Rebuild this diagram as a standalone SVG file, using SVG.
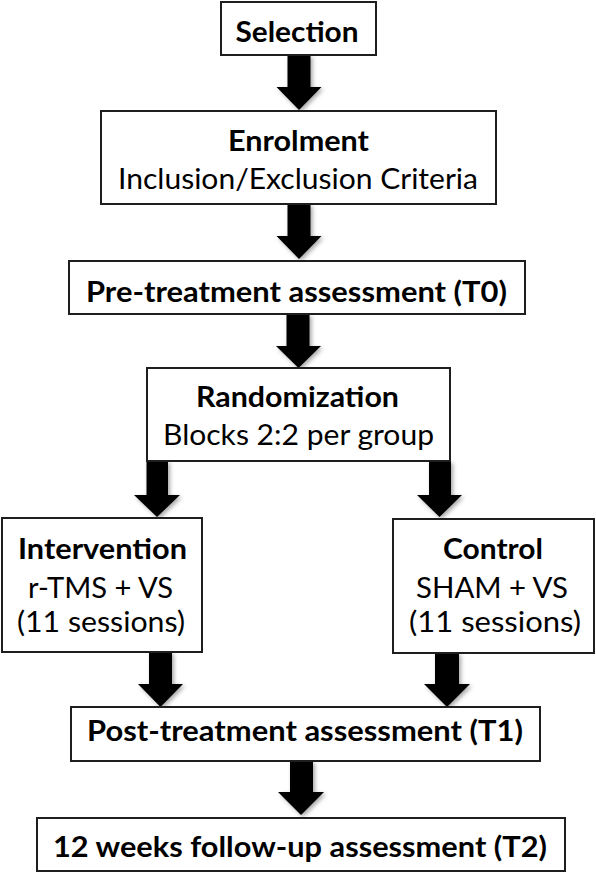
<svg xmlns="http://www.w3.org/2000/svg" width="596" height="874" viewBox="0 0 596 874">
  <defs>
    <filter id="sh" x="-30%" y="-30%" width="160%" height="160%">
      <feDropShadow dx="2" dy="2" stdDeviation="2" flood-color="#000" flood-opacity="0.35"/>
    </filter>
    <style>
      .box { fill: #ffffff; stroke: #1e1e1e; stroke-width: 2; }
      .arr { fill: #000000; filter: url(#sh); }
      text { font-family: Lato, "Open Sans", "Liberation Sans", sans-serif; font-size: 28px; fill: #000; text-anchor: middle; }
      .b { font-weight: bold; }
    </style>
  </defs>
  <rect width="596" height="874" fill="#ffffff"/>

  <g id="connectors">
    <polygon class="arr" points="287.5,55 310.5,55 310.5,87 321.5,87 299,110 276.5,87 287.5,87"/>
    <polygon class="arr" points="287.5,204 310.5,204 310.5,236 321.5,236 299,259 276.5,236 287.5,236"/>
    <polygon class="arr" points="286.5,314 309.5,314 309.5,346 321,346 298.5,368 276,346 286.5,346"/>
    <polygon class="arr" points="146.5,461 168,461 168,495 180,495 157,517 134,495 146.5,495"/>
    <polygon class="arr" points="429,461 451,461 451,495 462,495 439.5,517 417,495 429,495"/>
    <polygon class="arr" points="149,652 172,652 172,684 183,684 160.5,707 138,684 149,684"/>
    <polygon class="arr" points="435,653 459,653 459,684 470,684 447,707 424,684 435,684"/>
    <polygon class="arr" points="290,761 313,761 313,792 324,792 301,815 278,792 290,792"/>
  </g>

  <g id="selection">
    <rect class="box" x="221" y="2" width="155" height="53"/>
    <text class="b" x="297" y="42" textLength="123" lengthAdjust="spacingAndGlyphs">Selection</text>
  </g>

  <g id="enrolment">
    <rect class="box" x="101" y="111" width="395" height="93"/>
    <text class="b" x="298.5" y="151" textLength="141" lengthAdjust="spacingAndGlyphs">Enrolment</text>
    <text x="298" y="189" textLength="360" lengthAdjust="spacingAndGlyphs">Inclusion/Exclusion Criteria</text>
  </g>

  <g id="pretreatment">
    <rect class="box" x="69" y="261" width="456" height="53"/>
    <text class="b" x="296.5" y="302" textLength="421" lengthAdjust="spacingAndGlyphs">Pre-treatment assessment (T0)</text>
  </g>

  <g id="randomization">
    <rect class="box" x="147" y="368" width="303" height="93"/>
    <text class="b" x="297.5" y="407" textLength="203" lengthAdjust="spacingAndGlyphs">Randomization</text>
    <text x="298.5" y="445" textLength="271" lengthAdjust="spacingAndGlyphs">Blocks 2:2 per group</text>
  </g>

  <g id="intervention">
    <rect class="box" x="2" y="518" width="200" height="134"/>
    <text class="b" x="102.5" y="559" textLength="169" lengthAdjust="spacingAndGlyphs">Intervention</text>
    <text x="100.5" y="598" textLength="145" lengthAdjust="spacingAndGlyphs">r-TMS + VS</text>
    <text x="101" y="632" textLength="168" lengthAdjust="spacingAndGlyphs">(11 sessions)</text>
  </g>

  <g id="control">
    <rect class="box" x="393" y="519" width="201" height="134"/>
    <text class="b" x="493" y="559" textLength="100" lengthAdjust="spacingAndGlyphs">Control</text>
    <text x="492" y="598" textLength="152" lengthAdjust="spacingAndGlyphs">SHAM + VS</text>
    <text x="495" y="632" textLength="172" lengthAdjust="spacingAndGlyphs">(11 sessions)</text>
  </g>

  <g id="posttreatment">
    <rect class="box" x="71" y="707" width="469" height="54"/>
    <text class="b" x="305" y="741" textLength="436" lengthAdjust="spacingAndGlyphs">Post-treatment assessment (T1)</text>
  </g>

  <g id="followup">
    <rect class="box" x="37" y="818" width="528" height="53"/>
    <text class="b" x="300" y="857" textLength="494" lengthAdjust="spacingAndGlyphs">12 weeks follow-up assessment (T2)</text>
  </g>
</svg>
